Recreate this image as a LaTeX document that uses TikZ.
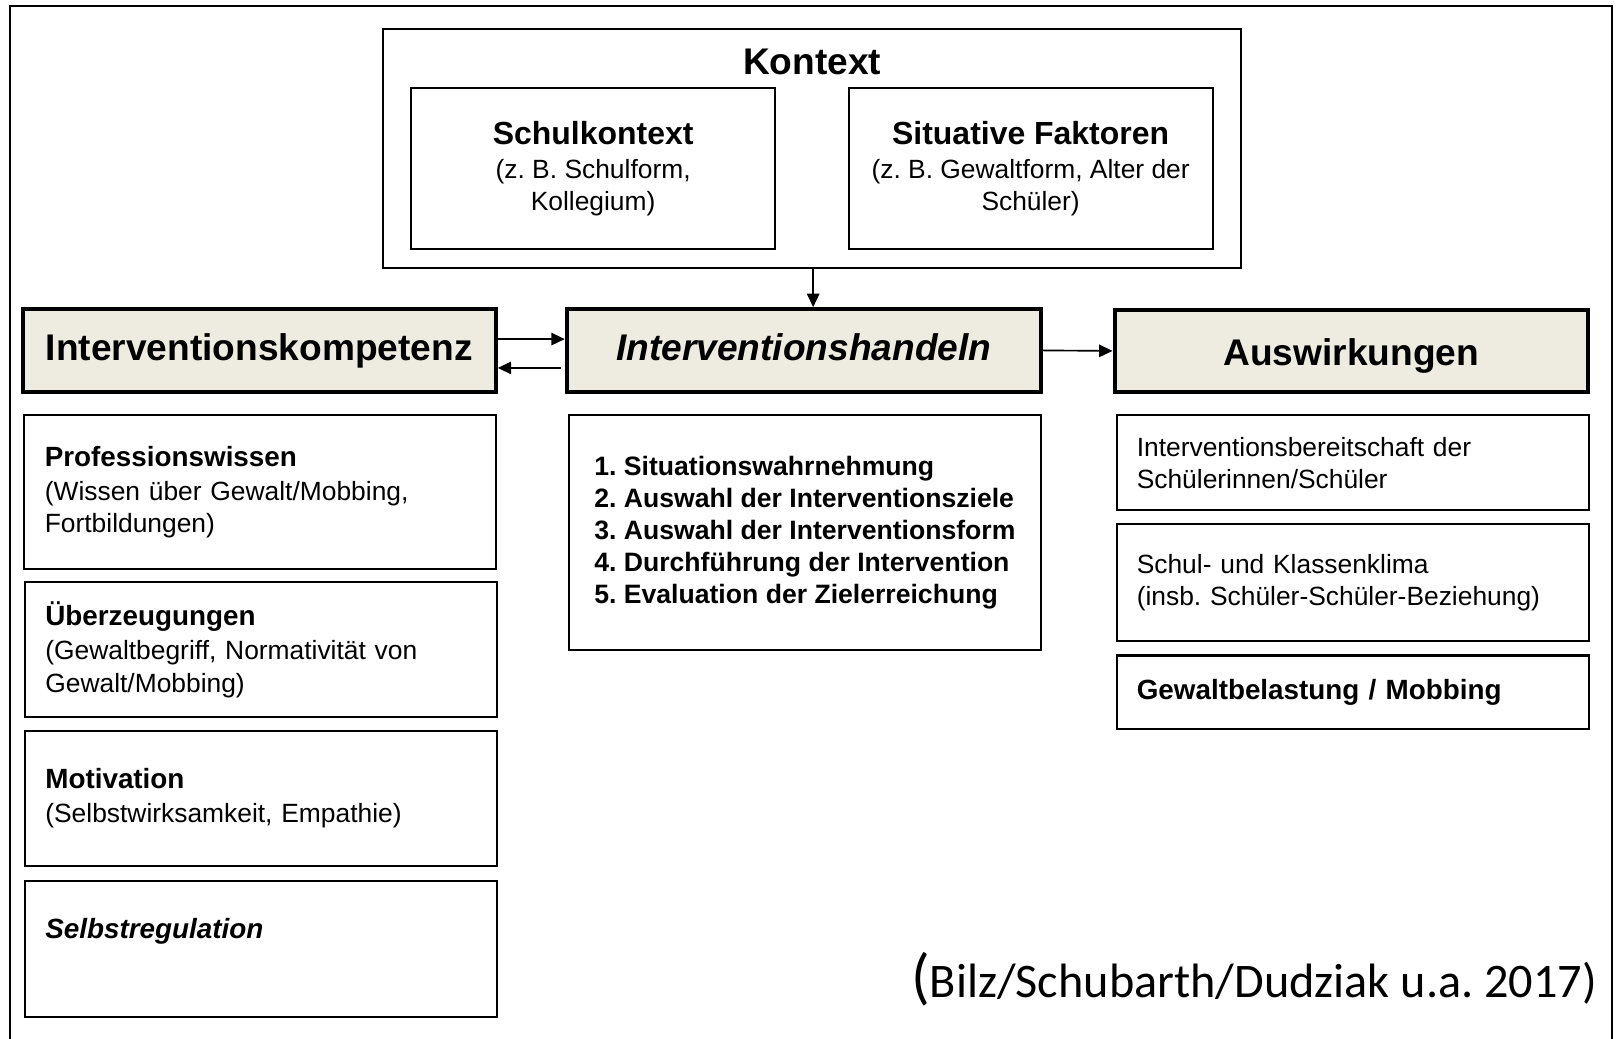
\documentclass[tikz,border=0pt]{standalone}
\usepackage{fontspec}
\setmainfont{Liberation Sans}
\newfontfamily\quellefont{Carlito}
\usetikzlibrary{arrows.meta}
\definecolor{kopfBeige}{HTML}{EEECE1}
\frenchspacing

\begin{document}
\begin{tikzpicture}[x=0.5pt,y=-0.5pt]
    \tikzset{
      kbox/.style={draw=black, line width=1pt, inner sep=0pt},
      kkopf/.style={draw=black, line width=2pt, fill=kopfBeige, minimum width=229.5pt, minimum height=40pt, text height=13.1pt, text depth=3.8pt, font=\fontsize{18}{21}\selectfont\bfseries},
      kctx/.style={kbox, minimum width=176.5pt, minimum height=78.5pt, align=center, font=\fontsize{12.8}{15.6}\selectfont},
      klinks/.style={kbox, inner xsep=10pt, text width=209pt, align=left, font=\fontsize{12.8}{15.6}\selectfont},
      krechts/.style={kbox, inner xsep=9.5pt, text width=210pt, align=left, font=\fontsize{12.8}{15.4}\selectfont},
      kpfeil/.style={line width=0.8pt, -{Triangle[length=6.5pt,width=6pt]}}
    }
    \useasboundingbox (0,0) rectangle (1568,1008);

    % Rahmen (unten offen)
    \draw[line width=1pt] (10,1008) -- (10,6) -- (1564,6) -- (1564,1008);

    % Kontext
    \node[kbox, minimum width=416pt, minimum height=116pt] (kontext) at (788,144) {};
    \node[font=\fontsize{18}{21}\selectfont\bfseries] (kontexttitel) at (788,60) {Kontext};
    \node[kctx] (schul) at (575.5,163.5) {{\fontsize{15.5}{17}\selectfont\bfseries Schulkontext}\\[1pt](z. B. Schulform,\\Kollegium)};
    \node[kctx] (situ) at (1000,163.5) {{\fontsize{15.5}{17}\selectfont\bfseries Situative Faktoren}\\[1pt](z. B. Gewaltform, Alter der\\Schüler)};

    % Kopfzeile
    \node[kkopf] (komp) at (251.5,340) {Interventionskompetenz};
    \node[kkopf, minimum width=230pt] (handeln) at (780,340) {\textit{Interventionshandeln}};
    \node[kkopf, text height=16pt, text depth=1.5pt] (ausw) at (1311,340.5) {Auswirkungen};

    \draw[kpfeil] (kontext.south -| 789,0) -- (handeln.north -| 789,0);
    \draw[kpfeil] ([yshift=5.5pt]komp.east) -- ([yshift=5.5pt]handeln.west);
    \draw[kpfeil] ([yshift=-8.5pt,xshift=-2pt]handeln.west) -- ([yshift=-8.5pt]komp.east);
    \draw[kpfeil] (handeln.east) -- (ausw.west);

    % Kompetenz
    \node[klinks, minimum height=74.5pt] (prof) at (252.5,477.5) {{\fontsize{13.5}{15.6}\selectfont\bfseries Professionswissen}\\[1pt](Wissen über Gewalt/Mobbing,\\Fortbildungen)};
    \node[klinks, minimum height=65.5pt] (ueber) at (253,630.5) {{\fontsize{13.5}{15.6}\selectfont\bfseries Überzeugungen}\\[1pt](Gewaltbegriff, Normativität von\\Gewalt/Mobbing)};
    \node[klinks, minimum height=65.5pt] (motiv) at (253,774.5) {{\fontsize{13.5}{15.6}\selectfont\bfseries Motivation}\\[1pt](Selbstwirksamkeit, Empathie)};
    \node[klinks, minimum height=66pt] (selbst) at (253,921) {{\fontsize{13.5}{15.6}\selectfont\bfseries\itshape Selbstregulation}\\\strut};

    % Handeln
    \node[kbox, minimum width=229pt, minimum height=114pt, align=left, font=\fontsize{12.9}{15.5}\selectfont\bfseries] (liste) at (781,517)
      {1. Situationswahrnehmung\\2. Auswahl der Interventionsziele\\3. Auswahl der Interventionsform\\4. Durchführung der Intervention\\5. Evaluation der Zielerreichung};

    % Auswirkungen
    \node[krechts, minimum height=46pt] (bereit) at (1313,449) {Interventionsbereitschaft der\\Schülerinnen/Schüler};
    \node[krechts, minimum height=57pt] (klima) at (1313,565) {Schul- und Klassenklima\\(insb. Schüler-Schüler-Beziehung)};
    \node[krechts, minimum height=35.5pt, font=\fontsize{13.5}{15.6}\selectfont\bfseries] (gewalt) at (1313,671.5) {Gewaltbelastung / Mobbing};

    % Quelle
    \node[anchor=base east, inner sep=0pt, font=\quellefont\fontsize{23.4}{28}\selectfont] (quelle) at (1550,968) {{\fontsize{30}{30}\selectfont(}Bilz/Schubarth/Dudziak u.a. 2017)};
\end{tikzpicture}
\end{document}
